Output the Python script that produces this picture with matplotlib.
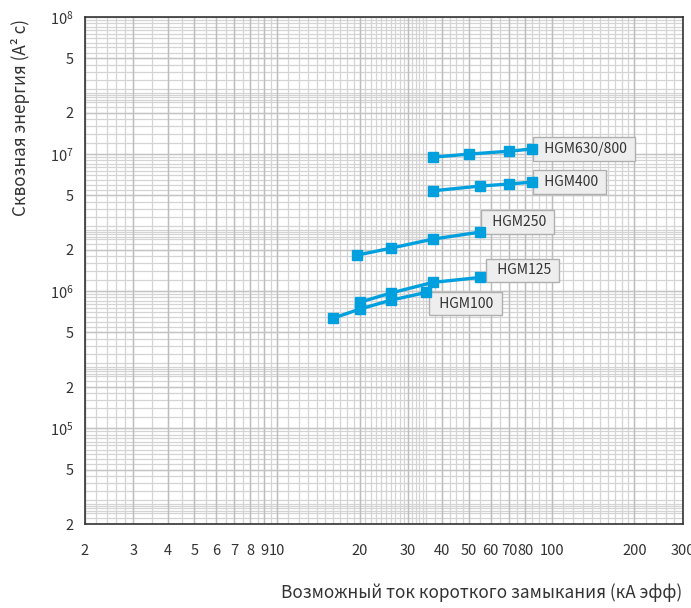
import numpy as np
import matplotlib
matplotlib.use('Agg')
import matplotlib.pyplot as plt
from matplotlib.ticker import FixedLocator, NullFormatter

plt.rcParams['font.family'] = ['Noto Sans CJK JP', 'DejaVu Sans']
plt.rcParams['mathtext.fontset'] = 'custom'
plt.rcParams['mathtext.rm'] = 'Noto Sans CJK JP'
plt.rcParams['mathtext.it'] = 'Noto Sans CJK JP'

# data (x in kA rms, y in A^2 s)
names = ['HGM630/800', 'HGM400', 'HGM250', 'HGM125', 'HGM100']
x_630 = [37, 50, 70, 85]
y_630 = [9.5e6, 1.0e7, 1.05e7, 1.09e7]
x_400 = [37, 55, 70, 85]
y_400 = [5.4e6, 5.85e6, 6.05e6, 6.25e6]
x_250 = [19.5, 26, 37, 55]
y_250 = [1.83e6, 2.06e6, 2.4e6, 2.7e6]
x_125 = [20, 26, 37, 55]
y_125 = [8.3e5, 9.7e5, 1.16e6, 1.26e6]
x_100 = [16, 20, 26, 35]
y_100 = [6.35e5, 7.4e5, 8.6e5, 9.8e5]

xticks = [2, 3, 4, 5, 6, 7, 8, 9, 10, 20, 30, 40, 50, 60, 70, 80, 100, 200, 300]
xticklabels = ['2', '3', '4', '5', '6', '7', '8', '9', '10', '20', '30', '40',
               '50', '60', '70', '80', '100', '200', '300']
yticks = [2e4, 5e4, 1e5, 2e5, 5e5, 1e6, 2e6, 5e6, 1e7, 2e7, 5e7, 1e8]
yticklabels = ['2', '5', '$10^5$', '2', '5', '$10^6$', '2', '5', '$10^7$', '2', '5', '$10^8$']

# grid spacing of the log paper
xgrid = list(np.arange(2, 3, 0.2)) + list(np.arange(3, 10, 0.5)) + list(range(10, 35)) + \
    list(np.arange(35, 50, 2.5)) + list(range(50, 100, 5)) + list(range(100, 200, 10)) + \
    list(range(200, 301, 20))
ymant = [1.0, 1.2, 1.4, 1.6, 1.8, 2.0, 2.2, 2.4, 2.5, 2.6, 2.7, 2.8] + list(np.arange(3.0, 10.0, 0.5))
ygrid = [m * 10.0 ** e for e in range(4, 8) for m in ymant]
ygrid = [v for v in ygrid if 2e4 <= v <= 1e8]

blue = '#00a0df'
txt = '#333333'

fig = plt.figure(figsize=(6.91, 6.08), dpi=100)
ax = fig.add_axes([0.123, 0.138, 0.865, 0.834])
ax.set_xscale('log')
ax.set_yscale('log')
ax.set_xlim(2, 300)
ax.set_ylim(2e4, 1e8)

for v in xgrid:
    ax.axvline(v, color='#d4d4d4', lw=0.9, zorder=0)
for v in ygrid:
    ax.axhline(v, color='#d4d4d4', lw=0.9, zorder=0)
for v in xticks:
    ax.axvline(v, color='#bdbdbd', lw=1.0, zorder=0)
for v in yticks:
    ax.axhline(v, color='#c4c4c4', lw=1.0, zorder=0)

ax.xaxis.set_major_locator(FixedLocator(xticks))
ax.set_xticklabels(xticklabels)
ax.xaxis.set_minor_formatter(NullFormatter())
ax.yaxis.set_major_locator(FixedLocator(yticks))
ax.set_yticklabels(yticklabels)
ax.yaxis.set_minor_formatter(NullFormatter())
ax.tick_params(which='both', length=0, labelsize=10.5, colors=txt)
ax.tick_params(axis='x', pad=14)
ax.tick_params(axis='y', pad=8)

for s in ax.spines.values():
    s.set_color('#333333')
    s.set_linewidth(1.2)

series = [(x_630, y_630), (x_400, y_400), (x_250, y_250), (x_125, y_125), (x_100, y_100)]
for xs, ys in series:
    ax.plot(xs, ys, color=blue, lw=2.4, marker='s', ms=6.5, zorder=3)

# labels next to the curves (offsets in points from the last point)
offsets = [(4, 0), (4, 0), (4, 7), (7.5, 5), (5, -8)]
for name, (xs, ys), off in zip(names, series, offsets):
    ax.annotate('  ' + name + ' ', xy=(xs[-1], ys[-1]), xytext=off, textcoords='offset points',
                ha='left', va='center', fontsize=10, color=txt, zorder=2.5,
                bbox=dict(boxstyle='square,pad=0.35', fc='#eeeeee', ec='#b0b0b0', lw=1.0))

fig.text(0.030, 1 - 118 / 608, 'Сквозная энергия (A² c)', rotation=90,
         ha='center', va='center', fontsize=12.3, color=txt)
fig.text(0.988, 1 - 593 / 608, 'Возможный ток короткого замыкания (кА эфф)',
         ha='right', va='center', fontsize=12.4, color=txt)

fig.savefig('out.png', dpi=100)
